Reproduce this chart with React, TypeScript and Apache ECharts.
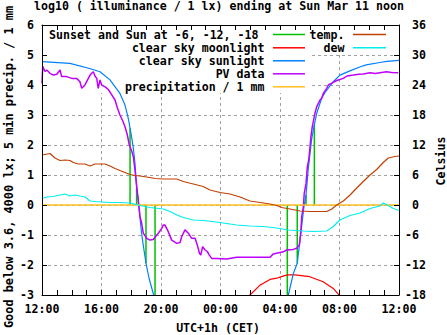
import React, { useEffect, useRef } from "react";
import * as echarts from "echarts";

// x values are hours after Sat 12:00 (CET)
const xTickLabels = ["12:00", "16:00", "20:00", "00:00", "04:00", "08:00", "12:00"];

// Sunset / sun at -6, -12, -18 (impulses from 0 up/down to the sunlight curve)
const sunEventHours = [5.92, 6.36, 6.99, 7.6, 16.49, 17.16, 17.75, 18.31];
const sunEventValues = [2.56, 0.57, -1.94, -3, -3, -1.94, 0.33, 2.67];

// clear sky moonlight (log10 lx)
const moonHours = [13.9, 13.98, 14.66, 14.88, 15.33, 15.78, 16.2, 16.5, 17.0, 18.0, 18.9, 19.58, 19.92, 20.0];
const moonValues = [-3.1, -3.0, -2.67, -2.61, -2.48, -2.44, -2.37, -2.33, -2.33, -2.39, -2.56, -2.78, -2.97, -3.1];

// clear sky sunlight (log10 lx)
const sunHours = [0, 1.88, 3.2, 3.9, 4.57, 5.24, 5.58, 5.8, 5.92, 6.03, 6.14, 6.25, 6.36, 6.47, 6.59, 6.7, 6.81, 6.99, 7.2, 7.48, 7.7,
  16.3, 16.56, 16.9, 17.16, 17.46, 17.6, 17.75, 17.9, 18.13, 18.31, 18.47, 18.8, 19.03, 19.58, 20.03, 20.7, 21.4, 21.8, 22.7, 23.2, 24];
const sunValues = [4.78, 4.72, 4.55, 4.44, 4.17, 3.72, 3.33, 2.89, 2.56, 2.25, 1.9, 1.4, 0.57, 0.17, -0.45, -0.95, -1.35, -1.94, -2.45, -2.95, -3.4,
  -3.4, -3.0, -2.28, -1.94, -0.7, -0.1, 0.33, 1.2, 2.2, 2.67, 3.06, 3.56, 3.75, 4.11, 4.33, 4.47, 4.61, 4.67, 4.75, 4.79, 4.82];

// PV data (log10 lx)
const pvHours = [0.0, 0.05, 0.09, 0.2, 0.32, 0.54, 0.76, 1.0, 1.21, 1.32, 1.66, 2.0, 2.33, 2.55, 2.67, 2.89, 3.0, 3.23, 3.34, 3.45, 3.56, 3.68, 3.78, 3.9, 4.01,
  4.24, 4.46, 4.69, 4.91, 5.06, 5.24, 5.43, 5.58, 5.73, 5.87, 6.03, 6.14, 6.25, 6.37, 6.47, 6.59, 6.7, 6.81, 7.04, 7.26, 7.48, 7.71, 7.82,
  8.05, 8.15, 8.27, 8.49, 8.72, 9.06, 9.28, 9.39, 9.61, 9.84, 10.06, 10.29, 10.44, 10.58, 10.67, 10.8, 10.96, 11.11, 11.25, 11.41, 11.74,
  12.42, 13.09, 13.76, 14.43, 15.33, 15.55, 16.22, 16.45, 16.89, 17.12, 17.3, 17.39, 17.46, 17.57, 17.63, 17.75, 17.84, 17.93, 18.02,
  18.08, 18.17, 18.24, 18.35, 18.47, 18.69, 18.8, 18.91, 19.14, 19.25, 19.48, 19.81, 20.26, 20.5, 20.93, 21.3, 21.6, 22.05, 22.4, 22.72, 23.17, 23.5, 23.95];
const pvValues = [4.05, 4.62, 4.61, 4.45, 4.5, 4.39, 4.33, 4.36, 4.5, 4.28, 4.28, 4.22, 4.22, 4.11, 3.89, 4.0, 4.11, 4.33, 4.39, 4.44, 4.3, 4.22, 3.89, 4.17, 4.0,
  3.94, 3.85, 3.67, 3.5, 3.25, 3.0, 2.8, 2.61, 2.35, 2.0, 1.8, 1.61, 1.17, 0.61, 0.17, -0.39, -0.61, -0.94, -1.11, -1.17, -1.15, -1.0, -0.94,
  -0.78, -0.67, -0.67, -0.89, -1.17, -1.28, -1.25, -1.06, -0.83, -0.94, -1.11, -1.11, -1.33, -1.6, -1.67, -1.39, -1.5, -1.55, -1.67, -1.78, -1.78,
  -1.8, -1.74, -1.74, -1.74, -1.74, -1.63, -1.56, -1.5, -1.48, -1.44, -1.33, -0.94, -0.39, -0.06, 0.39, 0.72, 1.28, 1.5, 1.94,
  2.28, 2.61, 2.78, 3.06, 3.28, 3.5, 3.56, 3.72, 3.89, 4.0, 4.06, 4.15, 4.22, 4.3, 4.33, 4.36, 4.37, 4.41, 4.38, 4.41, 4.44, 4.42, 4.41];

// precipitation / 1 mm
const precipHours = [0, 24];
const precipValues = [0, 0];

// temperature (Celsius)
const tempHours = [0, 0.54, 0.87, 1.21, 1.55, 1.88, 2.1, 2.44, 2.89, 3.23, 3.56, 4.24, 4.57, 4.91, 5.24, 5.58, 5.92, 6.25, 6.59, 7.04, 7.6,
  8.15, 9.06, 9.5, 10.17, 10.84, 11.29, 11.97, 12.64, 13.31, 13.98, 14.66, 15.33, 15.78, 16.11, 16.67, 17.34, 18.02, 19.14, 19.48, 19.81,
  20.26, 20.71, 21.16, 21.6, 22.05, 22.5, 22.94, 23.28, 23.73, 24];
const tempValues = [10.0, 10.3, 9.4, 8.9, 9.0, 8.9, 8.5, 8.2, 8.2, 7.8, 8.2, 8.2, 7.8, 7.3, 6.9, 6.5, 6.1, 5.9, 5.8, 5.6, 5.3,
  5.2, 5.2, 4.7, 4.2, 3.7, 3.0, 2.5, 2.2, 1.6, 0.8, 0.5, 0.2, -0.1, -0.5, -0.8, -1.2, -1.3, -1.3, -0.8, 0.0,
  0.8, 2.0, 3.4, 4.7, 6.0, 7.1, 8.5, 9.4, 9.7, 9.8];

// dew point (Celsius)
const dewHours = [0, 0.32, 0.76, 1.21, 1.55, 1.88, 2.22, 2.55, 2.89, 3.23, 3.56, 4.57, 5.24, 5.92, 6.59, 7.26, 8.15, 8.61, 9.06, 9.5,
  10.17, 10.84, 11.74, 12.42, 13.09, 13.98, 14.88, 15.78, 16.56, 17.57, 18.24, 19.14, 19.58, 20.03, 20.71, 21.38, 22.05, 22.72,
  22.94, 23.28, 23.62, 24];
const dewValues = [1.3, 1.6, 1.7, 2.0, 2.2, 1.8, 2.0, 1.8, 1.6, 0.8, 0.7, 0.5, 0.5, 0.4, -0.1, -0.5, -0.8, -1.3, -2.0, -2.5,
  -3.0, -3.1, -3.4, -3.7, -4.0, -4.2, -4.3, -4.6, -5.0, -5.2, -5.3, -5.2, -4.3, -3.0, -2.1, -1.6, -0.7, -0.2,
  0.4, -0.1, -0.7, -1.1];

const legendLeft = [
  { label: "Sunset and Sun at -6, -12, -18", color: "#00c000" },
  { label: "clear sky moonlight", color: "#ff0000" },
  { label: "clear sky sunlight", color: "#0080ff" },
  { label: "PV data", color: "#c000ff" },
  { label: "precipitation / 1 mm", color: "#ffc020" },
];
const legendRight = [
  { label: "temp.", color: "#c04000" },
  { label: "dew", color: "#00eeee" },
];

const pairs = (xs: number[], ys: number[]) => xs.map((x, i) => [x, ys[i]]);

export default function App() {
  const ref = useRef<HTMLDivElement>(null);
  useEffect(() => {
    const chart = echarts.init(ref.current!, null, { renderer: "svg" });
    const FONT = "'DejaVu Sans Mono', 'Liberation Mono', monospace";
    const txt = { fontFamily: FONT, fontWeight: "bold" as const, fontSize: 11.6, color: "#000" };
    const L = 42, T = 25, W = 357, H = 270;

    const line = (name: string, data: any[], color: string, width: number, z: number, yAxisIndex = 0) => ({
      type: "line", name, data, xAxisIndex: 0, yAxisIndex, symbol: "none", showSymbol: false,
      lineStyle: { color, width }, itemStyle: { color }, z, clip: true, silent: true,
    });

    const series: any[] = [];
    sunEventHours.forEach((h, i) => {
      series.push(line("sun" + i, [[h, 0], [h, sunEventValues[i]]], "#00c000", 1.5, 3));
    });
    series.push(line("moon", pairs(moonHours, moonValues), "#ff0000", 1.2, 4));
    series.push(line("sun", pairs(sunHours, sunValues), "#0080ff", 1.2, 5));
    series.push(line("pv", pairs(pvHours, pvValues), "#c000ff", 1.5, 6));
    series.push(line("precip", pairs(precipHours, precipValues), "#ffc020", 1.5, 7));
    series.push(line("temp", pairs(tempHours, tempValues), "#c04000", 1.2, 8, 1));
    series.push(line("dew", pairs(dewHours, dewValues), "#00eeee", 1.2, 9, 1));

    const graphics: any[] = [
      { type: "rect", z: 1, shape: { x: L + 1, y: T + 1, width: 312 - L - 1, height: 93 - T - 1 }, style: { fill: "#fff" } },
      { type: "rect", z: 1, shape: { x: 312, y: T + 1, width: 399 - 312 - 1, height: 54 - T - 1 }, style: { fill: "#fff" } },
      { type: "text", z: 20, x: 219, y: 6, style: { fill: "#000", text: "log10 ( illuminance / 1 lx) ending at Sun Mar 11 noon", align: "center", verticalAlign: "middle", font: `bold 11.6px ${FONT}` } },
      { type: "text", z: 20, x: 218, y: 328, style: { fill: "#000", text: "UTC+1h (CET)", align: "center", verticalAlign: "middle", font: `bold 11.6px ${FONT}` } },
      { type: "text", z: 20, x: 8.5, y: 167, rotation: Math.PI / 2, style: { fill: "#000", text: "Good below 3.6, 4000 lx; 5 min precip. / 1 mm", align: "center", verticalAlign: "middle", font: `bold 11.9px ${FONT}` } },
      { type: "text", z: 20, x: 440.5, y: 161, rotation: Math.PI / 2, style: { fill: "#000", text: "Celsius", align: "center", verticalAlign: "middle", font: `bold 11.6px ${FONT}` } },
    ];
    const rowY = [34.5, 47.8, 60.8, 73.8, 86.8];
    legendLeft.forEach((e, i) => {
      graphics.push({ type: "text", z: 20, x: i === 0 ? 258.5 : 264.5, y: rowY[i], style: { fill: "#000", text: e.label, align: "right", verticalAlign: "middle", font: `bold 11.6px ${FONT}` } });
      graphics.push({ type: "line", z: 20, shape: { x1: 273, y1: rowY[i], x2: 305, y2: rowY[i] }, style: { stroke: e.color, lineWidth: 1.5 } });
    });
    legendRight.forEach((e, i) => {
      graphics.push({ type: "text", z: 20, x: 344.5, y: rowY[i], style: { fill: "#000", text: e.label, align: "right", verticalAlign: "middle", font: `bold 11.6px ${FONT}` } });
      graphics.push({ type: "line", z: 20, shape: { x1: 353, y1: rowY[i], x2: 386, y2: rowY[i] }, style: { stroke: e.color, lineWidth: 1.5 } });
    });

    const axLine = { show: true, onZero: false, lineStyle: { color: "#000", width: 1 } };
    const split = { show: true, lineStyle: { color: "#a0a0a0", type: [3, 3] as any, width: 1 } };
    const hidden = { axisLine: { show: false }, axisTick: { show: false }, axisLabel: { show: false } };

    chart.setOption({
      animation: false,
      backgroundColor: "#fff",
      grid: { left: L, top: T, width: W, height: H, containLabel: false },
      xAxis: [
        {
          type: "value", position: "bottom", min: 0, max: 24, interval: 4, z: 10,
          axisLine: axLine,
          axisTick: { show: true, inside: true, length: 5, lineStyle: { color: "#000" } },
          minorTick: { show: true, splitNumber: 4, length: 5, lineStyle: { color: "#000" } },
          axisLabel: { ...txt, margin: 8, formatter: (v: number) => xTickLabels[Math.round(v / 4)] },
          splitLine: { show: false },
        },
        {
          type: "value", position: "top", min: 0, max: 24, interval: 4, z: 10,
          axisLine: axLine,
          axisTick: { show: true, inside: true, length: 5, lineStyle: { color: "#000" } },
          minorTick: { show: true, splitNumber: 4, length: 5, lineStyle: { color: "#000" } },
          axisLabel: { show: false },
          splitLine: { show: false },
        },
        { type: "value", position: "bottom", min: 0, max: 24, interval: 4, z: 0, ...hidden, splitLine: split },
      ],
      yAxis: [
        {
          type: "value", position: "left", min: -3, max: 6, interval: 1, z: 10,
          axisLine: axLine,
          axisTick: { show: true, inside: true, length: 5, lineStyle: { color: "#000" } },
          axisLabel: { ...txt, margin: 8, align: "right" },
          splitLine: { show: false },
        },
        {
          type: "value", position: "right", min: -18, max: 36, interval: 6, z: 10,
          axisLine: axLine,
          axisTick: { show: true, inside: true, length: 5, lineStyle: { color: "#000" } },
          axisLabel: { ...txt, margin: 6, align: "left", formatter: (v: number) => (v < 0 ? String(v) : "\u00a0" + v) },
          splitLine: { show: false },
        },
        { type: "value", position: "left", min: -3, max: 6, interval: 1, z: 0, ...hidden, splitLine: split },
      ],
      series,
      graphic: { elements: graphics },
    });
    return () => chart.dispose();
  }, []);
  return <div ref={ref} style={{ position: "fixed", left: 0, top: 0, width: 447, height: 335, background: "#fff" }} />;
}
